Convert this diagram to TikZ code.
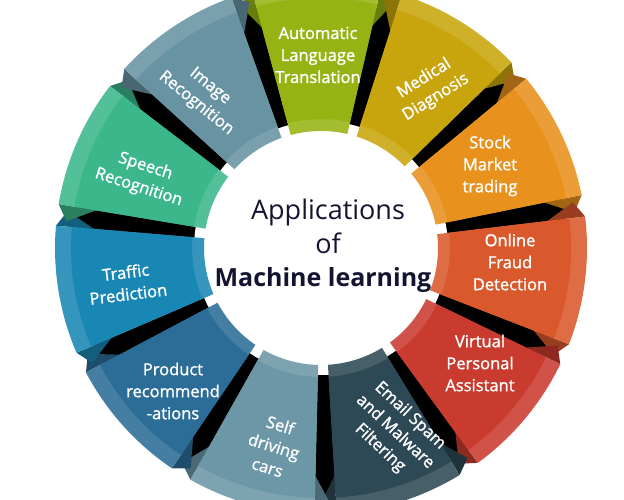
\documentclass[tikz,border=0pt]{standalone}
\usepackage{fontspec}
\setmainfont{Open Sans}
\newfontfamily\lblfont{Open Sans}[FakeBold=1.3]
\definecolor{autoc}{HTML}{96B314}
\definecolor{medc}{HTML}{C8A50C}
\definecolor{stockc}{HTML}{E8911C}
\definecolor{fraudc}{HTML}{D9582C}
\definecolor{virtc}{HTML}{C93A2F}
\definecolor{mailc}{HTML}{2D4955}
\definecolor{carc}{HTML}{6B97A7}
\definecolor{prodc}{HTML}{2B6D97}
\definecolor{trafc}{HTML}{1987B3}
\definecolor{speechc}{HTML}{3BB78B}
\definecolor{imgc}{HTML}{6893A3}
\definecolor{titlec}{HTML}{141432}
\tikzset{
  lbl/.style={text=white,align=center,font=\lblfont\fontsize{16.5}{22}\selectfont},
  title/.style={text=titlec,font=\fontsize{27}{30}\selectfont}
}
\begin{document}
\begin{tikzpicture}[x=1pt,y=1pt]
        \useasboundingbox (0,0) rectangle (624,500);
        \begin{scope}[shift={(321,252)}]
        % black ring behind the segments
        \fill[black] (0,0) circle[radius=246pt];
        \fill[white] (0,0) circle[radius=127pt];
        \foreach \a/\c in {91/autoc,58.3/medc,25.5/stockc,-7.2/fraudc,-39.9/virtc,-72.6/mailc,-105.4/carc,-138.1/prodc,-170.8/trafc,156.5/speechc,123.7/imgc}{
            % folded corners
            \fill[\c!70!black] (\a+14:266pt) -- (\a+17.5:256pt) -- (\a+14:228pt) -- cycle;
            \fill[\c!70!black] (\a-14:266pt) -- (\a-17.5:256pt) -- (\a-14:228pt) -- cycle;
            \fill[\c!88!white] (\a-14:117pt) arc[start angle=\a-14,end angle=\a+14,radius=117pt]
                -- (\a+14:266pt) arc[start angle=\a+14,end angle=\a-14,radius=266pt] -- cycle;
            \fill[\c] (\a-14:129pt) arc[start angle=\a-14,end angle=\a+14,radius=129pt]
                -- (\a+14:250pt) arc[start angle=\a+14,end angle=\a-14,radius=250pt] -- cycle;
        }
        \end{scope}
        \node[lbl] (auto) at (318,445) {Automatic\\Language\\Translation};
        \node[lbl,rotate=32] (med) at (430,412) {Medical\\Diagnosis};
        \node[lbl] (stock) at (490,334) {Stock\\Market\\trading};
        \node[lbl] (fraud) at (510,238) {Online\\Fraud\\Detection};
        \node[lbl] (virt) at (480,137) {Virtual\\Personal\\Assistant};
        \node[lbl,rotate=-43] (mail) at (395,68) {Email Spam\\and Malware\\Filtering};
        \node[lbl,rotate=-17] (car) at (274,54) {Self\\driving\\cars};
        \node[lbl] (prod) at (173,109) {Product\\recommend\\-ations};
        \node[lbl,rotate=7] (traf) at (127,217) {Traffic\\Prediction};
        \node[lbl,rotate=-18] (speech) at (142,323) {Speech\\Recognition};
        \node[lbl,rotate=-39] (img) at (203,405) {Image\\Recognition};
        \node[title] (apps) at (328,288) {Applications};
        \node[title] (of) at (328,257) {of};
        \node[title,font=\bfseries\fontsize{25}{30}\selectfont] (ml) at (323,220) {Machine learning};
    \end{tikzpicture}
\end{document}
